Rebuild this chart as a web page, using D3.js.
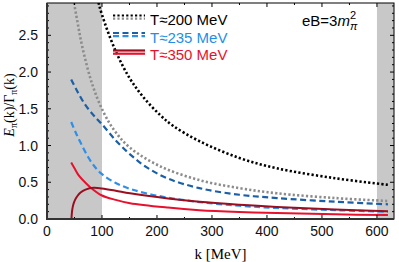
<!DOCTYPE html>
<html>
<head>
<meta charset="utf-8">
<script src="https://cdn.jsdelivr.net/npm/d3@7"></script>
<style>
  body { margin: 0; background: #fff; }
  svg { display: block; }
</style>
</head>
<body>
<div id="chart"></div>
<script>
// curves: k in MeV, value E/Gamma
const kBlack  = [85, 92, 100, 124, 150, 175, 205, 229, 277, 350, 418, 524, 620];
const vBlack  = [3.3, 3.0, 2.78, 2.3, 1.92, 1.66, 1.42, 1.27, 1.06, 0.83, 0.69, 0.555, 0.465];

const kGrey   = [44, 47, 55, 64, 82, 103, 125, 151, 205, 277, 350, 418, 524, 620];
const vGrey   = [3.3, 3.05, 2.7, 2.35, 1.84, 1.45, 1.18, 0.97, 0.72, 0.53, 0.42, 0.35, 0.285, 0.245];

const kDkBlue = [44, 55, 70, 85, 100, 125, 151, 180, 220, 277, 350, 418, 524, 620];
const vDkBlue = [1.9, 1.74, 1.55, 1.41, 1.29, 1.07, 0.88, 0.71, 0.55, 0.42, 0.33, 0.285, 0.235, 0.2];

const kLtBlue = [44, 52, 61, 75, 88, 100, 125, 151, 180, 220, 277, 350, 418, 524, 620];
const vLtBlue = [1.32, 1.18, 1.04, 0.84, 0.7, 0.61, 0.49, 0.41, 0.35, 0.29, 0.23, 0.18, 0.15, 0.12, 0.1];

const kDkRed  = [44.5, 45, 46, 48, 51, 55, 61, 70, 85, 100, 125, 151, 220, 277, 350, 418, 524, 620];
const vDkRed  = [0, 0.06, 0.13, 0.2, 0.26, 0.31, 0.36, 0.4, 0.425, 0.415, 0.385, 0.35, 0.28, 0.235, 0.195, 0.165, 0.13, 0.105];

const kRed    = [44, 50, 57, 65, 79, 100, 125, 151, 220, 277, 350, 418, 524, 620];
const vRed    = [0.77, 0.69, 0.6, 0.53, 0.43, 0.32, 0.26, 0.215, 0.155, 0.12, 0.095, 0.08, 0.064, 0.053];

const xTicks = [0, 100, 200, 300, 400, 500, 600];
const yTicks = [0, 0.5, 1, 1.5, 2, 2.5];
const legendLabels = ["T\u2248200 MeV", "T\u2248235 MeV", "T\u2248350 MeV"];
const bands = [[0, 100], [600, 640]];

const width = 399, height = 262;
const margin = {top: 3, right: 5, bottom: 43, left: 47};
const iw = width - margin.left - margin.right;
const ih = height - margin.top - margin.bottom;

const svg = d3.select("#chart").append("svg")
  .attr("width", width)
  .attr("height", height);

const x = d3.scaleLinear().domain([0, 631]).range([margin.left, margin.left + iw]);
const y = d3.scaleLinear().domain([0, 2.94]).range([margin.top + ih, margin.top]);

svg.append("clipPath").attr("id", "clip")
  .append("rect")
  .attr("x", margin.left).attr("y", margin.top)
  .attr("width", iw).attr("height", ih);

const plot = svg.append("g").attr("clip-path", "url(#clip)");

// shaded k ranges
plot.selectAll("rect.band")
  .data(bands)
  .join("rect")
  .attr("class", "band")
  .attr("x", d => x(d[0]))
  .attr("width", d => x(d[1]) - x(d[0]))
  .attr("y", margin.top)
  .attr("height", ih)
  .attr("fill", "#c8c8c8");

const line = d3.line()
  .x(d => x(d[0]))
  .y(d => y(d[1]))
  .curve(d3.curveCatmullRom.alpha(0.5));

const series = [
  {k: kGrey, v: vGrey, color: "#8c8c8c", dash: "2.2,2.2", w: 2.6},
  {k: kBlack, v: vBlack, color: "#000", dash: "2.2,2.2", w: 2.6},
  {k: kLtBlue, v: vLtBlue, color: "#2e8fe8", dash: "6,3.5", w: 2.2},
  {k: kDkBlue, v: vDkBlue, color: "#1b5fa6", dash: "6,3.5", w: 2.2},
  {k: kRed, v: vRed, color: "#e8112d", dash: null, w: 2},
  {k: kDkRed, v: vDkRed, color: "#9a0e20", dash: null, w: 2}
];

series.forEach(s => {
  plot.append("path")
    .datum(s.k.map((k, i) => [k, s.v[i]]))
    .attr("d", line)
    .attr("fill", "none")
    .attr("stroke", s.color)
    .attr("stroke-width", s.w)
    .attr("stroke-dasharray", s.dash);
});

// frame
svg.append("rect")
  .attr("x", margin.left).attr("y", margin.top)
  .attr("width", iw).attr("height", ih)
  .attr("fill", "none")
  .attr("stroke", "#000")
  .attr("stroke-width", 1);

// inward ticks, all four sides
const xMinor = d3.range(50, 631, 100);
const yMinor = d3.range(0, 2.94, 0.1).filter(v => Math.abs(v * 2 - Math.round(v * 2)) > 1e-6);

const tickG = svg.append("g").attr("stroke", "#000").attr("stroke-width", 1);
[[xTicks, 4], [xMinor, 2]].forEach(([ts, len]) => {
  ts.forEach(t => {
    tickG.append("line").attr("x1", x(t)).attr("x2", x(t))
      .attr("y1", margin.top + ih).attr("y2", margin.top + ih - len);
    tickG.append("line").attr("x1", x(t)).attr("x2", x(t))
      .attr("y1", margin.top).attr("y2", margin.top + len);
  });
});
[[yTicks, 4], [yMinor, 2]].forEach(([ts, len]) => {
  ts.forEach(t => {
    tickG.append("line").attr("y1", y(t)).attr("y2", y(t))
      .attr("x1", margin.left).attr("x2", margin.left + len);
    tickG.append("line").attr("y1", y(t)).attr("y2", y(t))
      .attr("x1", margin.left + iw).attr("x2", margin.left + iw - len);
  });
});

// thick left and bottom axes
svg.append("path")
  .attr("d", `M${margin.left},${margin.top}V${margin.top + ih}H${margin.left + iw}`)
  .attr("fill", "none")
  .attr("stroke", "#333")
  .attr("stroke-width", 2);

// tick labels
svg.append("g").selectAll("text")
  .data(xTicks)
  .join("text")
  .attr("x", d => x(d))
  .attr("y", margin.top + ih + 17)
  .attr("text-anchor", "middle")
  .style("font", "14px 'Liberation Sans', Arial, sans-serif")
  .attr("fill", "#111")
  .text(d => d);

svg.append("g").selectAll("text")
  .data(yTicks)
  .join("text")
  .attr("x", margin.left - 9)
  .attr("y", d => y(d) + 5)
  .attr("text-anchor", "end")
  .style("font", "14px 'Liberation Sans', Arial, sans-serif")
  .attr("fill", "#111")
  .text(d => d.toFixed(1));

// axis titles
svg.append("text")
  .attr("x", margin.left + iw / 2)
  .attr("y", 259)
  .attr("text-anchor", "middle")
  .style("font", "15px 'Liberation Serif', 'Times New Roman', serif")
  .text("k [MeV]");

const yl = svg.append("text")
  .attr("transform", "translate(14,105) rotate(-90)")
  .attr("text-anchor", "middle")
  .style("font", "14px 'Liberation Serif', 'Times New Roman', serif");
yl.append("tspan").style("font-style", "italic").text("E");
yl.append("tspan").attr("dy", 3).style("font-size", "10px").text("\u03c0");
yl.append("tspan").attr("dy", -3).text("(k)/\u0393");
yl.append("tspan").attr("dy", 3).style("font-size", "10px").text("\u03c0");
yl.append("tspan").attr("dy", -3).text("(k)");

// legend
const legendColors = [["#000", "#8c8c8c"], ["#1b5fa6", "#2e8fe8"], ["#9a0e20", "#e8112d"]];
const legendDash = ["2.2,2.2", "6,3.5", null];
const legendText = ["#000", "#1e8fe8", "#e8112d"];
const lg = svg.append("g");
legendLabels.forEach((lab, i) => {
  const cy = 17 + i * 17.5;
  legendColors[i].forEach((c, j) => {
    lg.append("line")
      .attr("x1", 113).attr("x2", 145)
      .attr("y1", cy - 1.5 + j * 3.2).attr("y2", cy - 1.5 + j * 3.2)
      .attr("stroke", c)
      .attr("stroke-width", 2.2)
      .attr("stroke-dasharray", legendDash[i]);
  });
  lg.append("text")
    .attr("x", 150)
    .attr("y", cy + 8)
    .style("font", "15px 'Liberation Sans', Arial, sans-serif")
    .attr("fill", legendText[i])
    .text(lab);
});

// field strength note
const eb = svg.append("text")
  .attr("x", 302)
  .attr("y", 26)
  .style("font", "15px 'Liberation Sans', Arial, sans-serif");
eb.append("tspan").text("eB=3");
eb.append("tspan").style("font-style", "italic").text("m");
eb.append("tspan").attr("dy", -7).style("font-size", "11px").text("2");
eb.append("tspan").attr("dx", -6).attr("dy", 11).style("font-size", "11px").style("font-style", "italic").text("\u03c0");
</script>
</body>
</html>
